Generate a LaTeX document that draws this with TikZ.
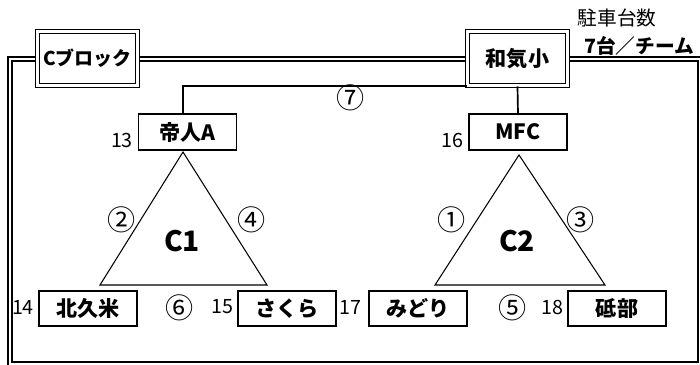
\documentclass[tikz,border=0pt]{standalone}
\usepackage{fontspec}
\newfontfamily\jp{Noto Sans CJK JP}
\usepackage{tikz}
\usetikzlibrary{calc}

\tikzset{
  hub/.style={draw, double, line width=1.1pt, double distance=1.8pt, fill=white,
    minimum width=2.5cm, minimum height=1.35cm, inner sep=0pt,
    font=\jp\bfseries\fontsize{15}{17}\selectfont},
  team/.style={draw, line width=1.4pt, fill=white, minimum width=2.45cm,
    minimum height=0.88cm, inner sep=0pt, font=\jp\bfseries\fontsize{15}{17}\selectfont},
  num/.style={inner sep=0pt, font=\jp\fontsize{14}{16}\selectfont},
  match/.style={inner sep=0pt, font=\jp\fontsize{20}{22}\selectfont},
  court/.style={line width=0.75pt, line join=miter},
  link/.style={line width=1.2pt}
}

\begin{document}
\begin{tikzpicture}[x=0.025cm,y=-0.025cm]
\useasboundingbox (0,0) rectangle (700,365);
\clip (0,0) rectangle (700,365);
% outer frame
\draw[double, line width=1.1pt, double distance=1.8pt] (10,59) rectangle (700,364);
% blocks
\node[hub, font=\jp\bfseries\fontsize{13.5}{16}\selectfont] (cblock) at (87.5,58.5) {Cブロック};
\node[hub] (wakishou) at (517.5,58.5) {和気小};
\node[inner sep=0pt, font=\jp\fontsize{14}{16}\selectfont] (park) at (617,18) {駐車台数};
\node[inner sep=0pt, font=\jp\bfseries\fontsize{14}{16}\selectfont] (cars) at (639,46) {7台／チーム};
% teams
\node[team] (teijin) at (187.5,132) {帝人A};
\node[team] (mfc) at (518,132) {MFC};
\node[team] (kitakume) at (88,308.5) {北久米};
\node[team] (sakura) at (287,308.5) {さくら};
\node[team] (midori) at (418,308.5) {みどり};
\node[team] (tobe) at (617,308.5) {砥部};
\node[num] (n13) at (122,140) {13};
\node[num] (n16) at (452,140) {16};
\node[num] (n14) at (23,307) {14};
\node[num] (n15) at (222,307) {15};
\node[num] (n17) at (350,307) {17};
\node[num] (n18) at (552,307) {18};
% courts
\coordinate (c1top) at (183,152);
\coordinate (c1left) at (100,285);
\coordinate (c1right) at (267,285);
\coordinate (c2top) at (519,155);
\coordinate (c2left) at (435,285);
\coordinate (c2right) at (605,285);
\draw[court] (c1top) -- (c1left) -- (c1right) -- cycle;
\draw[court] (c2top) -- (c2left) -- (c2right) -- cycle;
\node[font=\jp\bfseries\fontsize{20}{22}\selectfont] (c1) at (182,241) {C1};
\node[font=\jp\bfseries\fontsize{20}{22}\selectfont] (c2) at (517,241) {C2};
% links
\draw[link] (c1top |- teijin.north) |- (wakishou.south west);
\draw[link] (wakishou.south) -- (mfc.north);
% match order
\node[match] (m1) at (452,220) {①};
\node[match] (m2) at (122,220) {②};
\node[match] (m3) at (581,220) {③};
\node[match] (m4) at (252,220) {④};
\node[match] (m5) at (513,308) {⑤};
\node[match] (m6) at (180,308) {⑥};
\node[match] (m7) at (351,97.5) {⑦};
\end{tikzpicture}
\end{document}
